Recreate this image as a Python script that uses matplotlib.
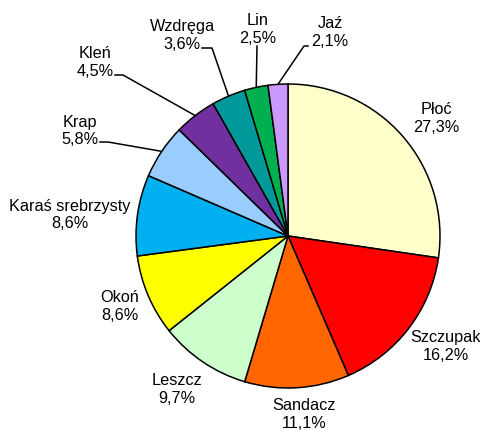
import numpy as np
import matplotlib.pyplot as plt

species = ["Płoć", "Szczupak", "Sandacz", "Leszcz", "Okoń", "Karaś srebrzysty",
           "Krap", "Kleń", "Wzdręga", "Lin", "Jaź"]
shares = [27.3, 16.2, 11.1, 9.7, 8.6, 8.6, 5.8, 4.5, 3.6, 2.5, 2.1]
colors = ["#FFFFCC", "#FF0000", "#FF6600", "#CCFFCC", "#FFFF00", "#00B0F0",
          "#99CCFF", "#7030A0", "#009999", "#00B050", "#CC99FF"]

W, H = 481, 431
CX, CY, R = 288, 237, 152

# label block centres (pixels from top-left)
label_pos = [(436, 118), (446, 347), (304, 415), (177, 390), (120, 307), (70, 215),
             (80, 131), (95, 63), (182, 35), (258, 29), (330, 32)]
# leader lines for small slices: label end -> elbow -> wedge edge
leaders = {6: [(100, 143), (108, 143)],
           7: [(115, 76), (123, 76)],
           8: [(202, 49), (212, 49)],
           9: [(257, 47), (257, 47)],
           10: [(308, 47), (304, 47)]}

fig = plt.figure(figsize=(W / 100, H / 100), dpi=100)
ax = fig.add_axes([0, 0, 1, 1])
ax.set_xlim(0, W)
ax.set_ylim(0, H)
ax.set_aspect("equal")
ax.axis("off")

wedges, _ = ax.pie(shares, colors=colors, startangle=90, counterclock=False,
                   center=(CX, H - CY), radius=R,
                   wedgeprops=dict(edgecolor="black", linewidth=1.1))
ax.set_xlim(0, W)
ax.set_ylim(0, H)

for i, (name, val) in enumerate(zip(species, shares)):
    x, y = label_pos[i]
    ax.text(x, H - y, "{}\n{}%".format(name, str(val).replace(".", ",")),
            ha="center", va="center", multialignment="center",
            fontsize=11.7, family="Liberation Sans", linespacing=1.25)
    if i in leaders:
        w = wedges[i]
        mid = np.deg2rad((w.theta1 + w.theta2) / 2)
        ex = CX + R * np.cos(mid)
        ey = H - CY + R * np.sin(mid)
        (x0, y0), (x1, y1) = leaders[i]
        ax.plot([x0, x1, ex], [H - y0, H - y1, ey], color="black", lw=1.1)

fig.savefig("out.png", dpi=100)
